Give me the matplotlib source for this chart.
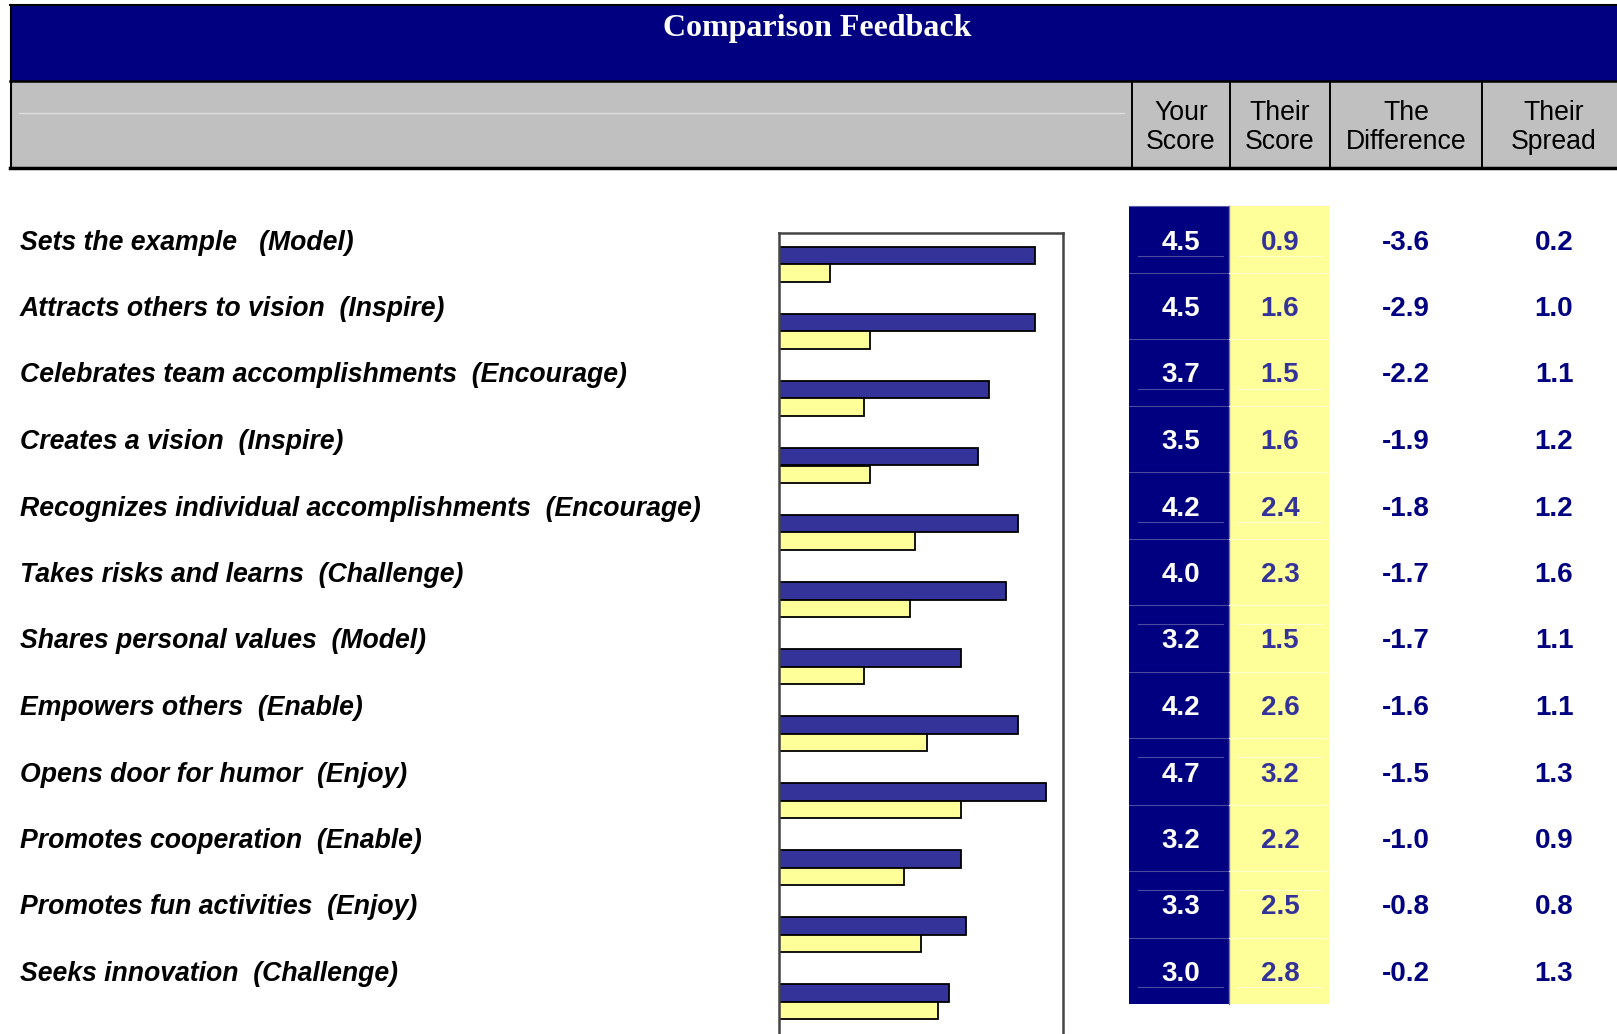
import matplotlib
matplotlib.use("Agg")
import matplotlib.pyplot as plt
from matplotlib.patches import Rectangle
import numpy as np

# ---------------- data ----------------
labels = [
    "Sets the example   (Model)",
    "Attracts others to vision  (Inspire)",
    "Celebrates team accomplishments  (Encourage)",
    "Creates a vision  (Inspire)",
    "Recognizes individual accomplishments  (Encourage)",
    "Takes risks and learns  (Challenge)",
    "Shares personal values  (Model)",
    "Empowers others  (Enable)",
    "Opens door for humor  (Enjoy)",
    "Promotes cooperation  (Enable)",
    "Promotes fun activities  (Enjoy)",
    "Seeks innovation  (Challenge)",
]
your_score = [4.5, 4.5, 3.7, 3.5, 4.2, 4.0, 3.2, 4.2, 4.7, 3.2, 3.3, 3.0]
their_score = [0.9, 1.6, 1.5, 1.6, 2.4, 2.3, 1.5, 2.6, 3.2, 2.2, 2.5, 2.8]
difference = [-3.6, -2.9, -2.2, -1.9, -1.8, -1.7, -1.7, -1.6, -1.5, -1.0, -0.8, -0.2]
spread = [0.2, 1.0, 1.1, 1.2, 1.2, 1.6, 1.1, 1.1, 1.3, 0.9, 0.8, 1.3]
col_headers = ["Your\nScore", "Their\nScore", "The\nDifference", "Their\nSpread"]
title = "Comparison Feedback"

NAVY = "#000080"
BAR_BLUE = "#333399"
YELLOW = "#FFFF99"
GRAY = "#C0C0C0"

W, H = 1617, 1034
fig = plt.figure(figsize=(W / 100, H / 100), dpi=100)
fig.patch.set_facecolor("white")

# background axes in pixel coordinates
bg = fig.add_axes([0, 0, 1, 1])
bg.set_xlim(0, W)
bg.set_ylim(H, 0)
bg.axis("off")

SANS = "Liberation Sans"
SERIF = "Liberation Serif"

# ---- header ----
bg.add_patch(Rectangle((10, 5), W, 76, facecolor=NAVY, edgecolor="none"))
bg.add_patch(Rectangle((10, 81), W, 86, facecolor=GRAY, edgecolor="none"))
bg.plot([10, W], [5, 5], color="black", lw=1.5)
bg.plot([10, W], [81, 81], color="black", lw=1.8)
bg.plot([10, W], [167.5, 167.5], color="black", lw=2.5)
bg.plot([10.5, 10.5], [5, 168], color="black", lw=1.5)
bg.plot([19, 1124], [113, 113], color="#dcdcdc", lw=1.0)
for xd in [1132, 1230, 1330, 1482]:
    bg.plot([xd, xd], [82, 166], color="black", lw=1.4)

bg.text(817, 36, title, ha="center", va="baseline", color="white",
        fontsize=23, fontweight="bold", family=SERIF)

col_x = [1181, 1280, 1406, 1554]
for cx, hdr in zip(col_x, col_headers):
    l1, l2 = hdr.split("\n")
    bg.text(cx, 119.5, l1, ha="center", va="baseline", fontsize=19.2, family=SANS, color="black")
    bg.text(cx, 149, l2, ha="center", va="baseline", fontsize=19.2, family=SANS, color="black")

# ---- table columns ----
n = len(labels)
row_h = 66.5
top = 206
bg.add_patch(Rectangle((1129, top), 100, row_h * n, facecolor=NAVY, edgecolor="none"))
bg.add_patch(Rectangle((1229, top), 100, row_h * n, facecolor=YELLOW, edgecolor="none"))
bg.plot([1129, 1229], [top, top], color="#5a5aa8", lw=0.8)
bg.plot([1228.5, 1228.5], [top, top + row_h * n], color="#7a7ab0", lw=1.0)
for i in range(1, n):
    yb = top + row_h * i
    bg.plot([1129, 1228], [yb, yb], color="#4a4aa0", lw=0.8)
    bg.plot([1229, 1329], [yb, yb], color="#ffffd0", lw=0.8)

short_lines = {0: 1, 2: 1, 4: 1, 6: -1, 8: -1, 10: -1, 11: 1}
for i, s in short_lines.items():
    yc = 240 + row_h * i + s * 15.5
    bg.plot([1138, 1223], [yc, yc], color="#4a4aa0", lw=0.8)
    bg.plot([1237, 1322], [yc, yc], color="#ffffd0", lw=0.8)

for i in range(n):
    yb = 249.5 + row_h * i
    bg.text(20, yb, labels[i], ha="left", va="baseline", fontsize=19.2,
            fontweight="bold", fontstyle="italic", family=SANS, color="black")
    bg.text(col_x[0], yb, f"{your_score[i]:.1f}", ha="center", va="baseline",
            fontsize=20, fontweight="bold", family=SANS, color="white")
    bg.text(col_x[1], yb, f"{their_score[i]:.1f}", ha="center", va="baseline",
            fontsize=20, fontweight="bold", family=SANS, color=BAR_BLUE)
    bg.text(col_x[2], yb, f"{difference[i]:.1f}", ha="center", va="baseline",
            fontsize=20, fontweight="bold", family=SANS, color=NAVY)
    bg.text(col_x[3], yb, f"{spread[i]:.1f}", ha="center", va="baseline",
            fontsize=20, fontweight="bold", family=SANS, color=NAVY)

# ---- bar chart ----
ax_left, ax_right, ax_top = 779, 1063, 233
ax = fig.add_axes([ax_left / W, 0, (ax_right - ax_left) / W, (H - ax_top) / H])
ax.set_facecolor("white")
step = 67.0
c0 = 264.5
ax.set_ylim((H - c0) / step, (ax_top - c0) / step)
ax.set_xlim(0, 5)
y = np.arange(n)
h = 17.5 / step
ax.barh(y - h / 2, your_score, height=h, color=BAR_BLUE, edgecolor="black", linewidth=1.3)
ax.barh(y + h / 2, their_score, height=h, color=YELLOW, edgecolor="black", linewidth=1.3)
ax.set_xticks([])
ax.set_yticks([])
for side in ["left", "top", "right"]:
    ax.spines[side].set_color("#444444")
    ax.spines[side].set_linewidth(1.8)
ax.spines["bottom"].set_visible(False)

fig.savefig("out.png", dpi=100)
